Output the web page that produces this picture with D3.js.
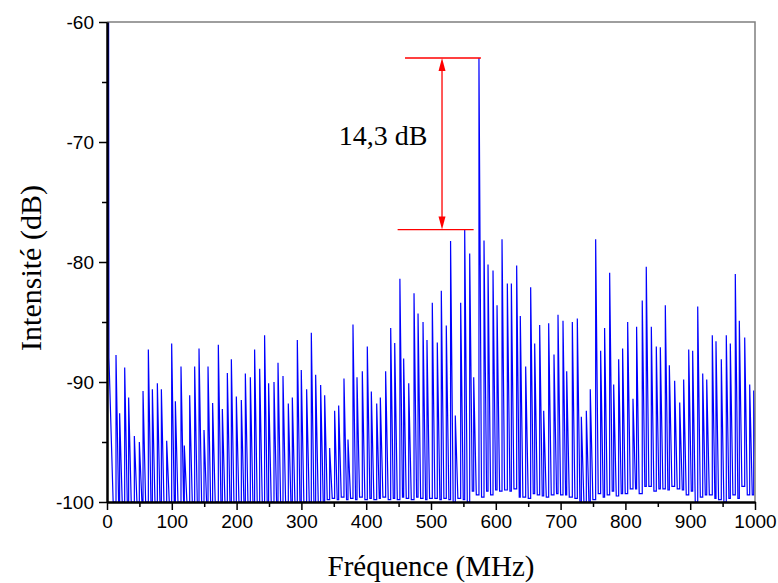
<!DOCTYPE html>
<html><head><meta charset="utf-8">
<script src="https://cdn.jsdelivr.net/npm/d3@7"></script>
<style>body{margin:0;background:#fff}svg{display:block}</style>
</head><body><svg id="c" width="778" height="583"></svg>
<script>
// ---- data ----
const xTicks = [0,100,200,300,400,500,600,700,800,900,1000];
const xMinorTicks = [50,150,250,350,450,550,650,750,850,950];
const yTicks = [-100,-90,-80,-70,-60];
const yMinorTicks = [-95,-85,-75,-65];

// DC spike at 0 MHz
const dcMHz = [0, 2.5, 3, 9.5];
const dcDb  = [-100, -60, -88, -100];

const peakMHz = [
 13.9,19.5,27.3,33.4,42.2,49.9,55.6,63.8,70.0,77.7,83.9,92.1,99.8,105.5,114.2,119.3,127.6,135.3,142.0,149.7,155.9,163.0,
 171.8,178.0,185.7,191.9,199.6,207.3,213.5,221.2,227.8,235.6,243.2,249.4,257.7,263.9,271.6,279.8,286.0,293.7,299.8,308.1,315.3,322.0,329.7,
 335.9,343.6,351.3,357.5,365.7,371.9,379.6,385.8,394.0,401.7,407.9,416.2,421.8,430.0,437.8,444.0,452.0,457.8,465.6,473.8,480.0,487.7,493.8,
 502.0,509.7,515.9,523.6,530.2,537.5,545.8,552.0,559.7,565.9,574.0,581.8,588.0,595.7,601.9,609.6,617.8,624.0,632.2,637.8,646.1,653.8,660.0,667.7,
 673.9,681.6,689.8,696.0,703.7,709.4,718.1,725.8,732.0,739.7,745.8,754.1,761.8,767.9,775.7,781.9,789.6,795.7,803.5,811.7,817.3,826.0,832.2,
 840.0,847.7,853.9,861.6,867.8,876.0,883.8,889.9,897.7,903.8,911.6,919.3,925.5,934.1,939.8,948.0,955.7,961.9,969.6,975.8,984.1,991.8,998.0
];
const peakDb = [
 -87.75,-92.6,-88.8,-91.3,-94.5,-95.0,-90.75,-87.3,-90.6,-90.1,-90.6,-94.9,-86.8,-91.6,-88.7,-95.3,-91.1,-88.7,-87.2,-94.0,-88.7,-91.75,
 -86.9,-92.25,-89.25,-88.1,-91.2,-91.5,-89.3,-89.6,-87.3,-88.9,-86.1,-90.1,-90.0,-88.4,-89.5,-91.8,-91.3,-86.5,-89.0,-90.6,-85.9,-89.4,-90.25,
 -91.1,-95.5,-92.4,-91.95,-89.7,-94.8,-85.2,-89.6,-89.1,-87.05,-90.8,-91.8,-91.3,-89.1,-85.5,-86.75,-81.4,-88.05,-90.1,-82.6,-84.3,-85.0,-86.5,
 -83.4,-86.7,-82.4,-85.3,-78.25,-92.8,-83.4,-77.3,-79.3,-89.6,-63.0,-78.2,-80.2,-80.7,-83.6,-78.1,-81.8,-81.8,-80.3,-84.5,-88.7,-82.1,-86.8,-85.25,
 -92.4,-85.1,-87.7,-84.4,-84.9,-89.1,-85.0,-84.7,-92.9,-92.4,-90.6,-78.1,-87.4,-85.5,-80.9,-90.2,-88.1,-87.2,-85.0,-91.4,-85.4,-83.2,-80.4,
 -85.4,-87.05,-87.1,-83.6,-88.6,-89.9,-91.7,-89.8,-87.3,-87.4,-83.7,-89.3,-89.8,-86.1,-86.6,-88.1,-86.1,-86.8,-81.0,-84.9,-86.3,-90.2,-90.7
];
// trough level reached after each peak
const valleyDb = [
 -100,-100,-100,-100,-100,-100,-100,-100,-100,-100,-100,-100,-100,-100,-100,-100,-100,-100,-100,-100,-100,-100,
 -100,-100,-100,-100,-100,-100,-100,-100,-100,-100,-100,-100,-100,-100,-100,-100,-100,-100,-100,-100,-100,-100,-100,
 -99.8,-99.7,-99.8,-99.6,-99.8,-99.7,-99.8,-99.6,-99.8,-99.7,-99.8,-99.7,-99.6,-99.8,-99.7,-99.8,-99.6,-99.7,-99.8,-99.6,-99.7,-99.8,-99.7,
 -99.7,-99.8,-99.7,-99.8,-100,-99.7,-99.8,-100,-99.1,-99.4,-99.6,-99.1,-99.4,-99.0,-99.1,-99.0,-99.1,-98.9,-99.6,-99.6,-99.7,-99.3,-99.4,-99.5,
 -99.6,-99.4,-99.3,-99.4,-99.4,-99.6,-99.7,-100,-100,-100,-99.8,-99.3,-99.6,-99.4,-99.1,-99.5,-99.3,-99.3,-98.9,-98.9,-99.3,-98.7,-98.7,
 -99.1,-98.9,-98.9,-99.0,-98.7,-98.9,-99.0,-99.4,-99.1,-100,-99.6,-99.4,-99.4,-99.7,-99.8,-100,-99.7,-99.4,-99.7,-98.7,-99.4,-99.4,-98.7
];

// annotation
const annoTopDb = -63.0;
const annoBottomDb = -77.3;
const annoLabel = "14,3 dB";

// ---- drawing ----
const svg = d3.select("#c");
const X0=107, X1=755, Y0=22, Y1=502;
const x = d3.scaleLinear().domain([0,1000]).range([X0,X1]);
const y = d3.scaleLinear().domain([-100,-60]).range([Y1,Y0]);
const FALL = 4; // width (MHz) of the trailing edge of each spike

svg.append("defs").append("clipPath").attr("id","plot")
  .append("rect").attr("x",X0).attr("y",Y0-1).attr("width",X1-X0).attr("height",Y1-Y0+1);

const pts = dcMHz.map((f,i)=>[f, dcDb[i]]);
peakMHz.forEach((f,i)=>{
  const prev = i===0 ? dcDb[dcDb.length-1] : valleyDb[i-1];
  pts.push([f, prev]);
  pts.push([f, peakDb[i]]);
  pts.push([f+FALL, valleyDb[i]]);
});
const line = d3.line().x(d=>x(d[0])).y(d=>y(d[1]));
svg.append("path").datum(pts).attr("d",line)
  .attr("clip-path","url(#plot)")
  .attr("fill","none").attr("stroke","#0000ff").attr("stroke-width",1.2)
  .attr("stroke-linejoin","miter");

// frame (top/right)
svg.append("path").attr("d",`M${X0},${Y0}H${X1}V${Y1}`)
  .attr("fill","none").attr("stroke","#7f7f7f").attr("stroke-width",1.5);

// axes
const fmt = d => String(d);
const tickFont = "'Liberation Sans', Arial, sans-serif";
const gx = svg.append("g").attr("transform",`translate(0,${Y1})`)
  .call(d3.axisBottom(x).tickValues(xTicks).tickSize(8).tickSizeOuter(0).tickPadding(5).tickFormat(fmt));
const gxm = svg.append("g").attr("transform",`translate(0,${Y1})`)
  .call(d3.axisBottom(x).tickValues(xMinorTicks).tickSize(5).tickSizeOuter(0).tickFormat(""));
const gy = svg.append("g").attr("transform",`translate(${X0},0)`)
  .call(d3.axisLeft(y).tickValues(yTicks).tickSize(8).tickSizeOuter(0).tickPadding(5).tickFormat(fmt));
const gym = svg.append("g").attr("transform",`translate(${X0},0)`)
  .call(d3.axisLeft(y).tickValues(yMinorTicks).tickSize(5).tickSizeOuter(0).tickFormat(""));
[gx,gxm,gy,gym].forEach(g=>{
  g.select(".domain").attr("stroke","#000").attr("stroke-width",2);
  g.selectAll(".tick line").attr("stroke","#000").attr("stroke-width",1.5);
  g.selectAll(".tick text").attr("fill","#000").style("font-family",tickFont).style("font-size","19px");
});

// axis titles
const serif = "'Liberation Serif', 'Times New Roman', serif";
svg.append("text").attr("x",(X0+X1)/2).attr("y",576).attr("text-anchor","middle")
  .style("font-family",serif).style("font-size","29px").text("Fréquence (MHz)");
svg.append("text").attr("transform",`translate(41,268) rotate(-90)`).attr("text-anchor","middle")
  .style("font-family",serif).style("font-size","30px").text("Intensité (dB)");

// annotation
const red = "#ff0000";
const aTop = y(annoTopDb), aBot = y(annoBottomDb);
svg.append("line").attr("x1",x(459.9)).attr("x2",x(577)).attr("y1",aTop).attr("y2",aTop)
  .attr("stroke",red).attr("stroke-width",1.3);
svg.append("line").attr("x1",x(448.5)).attr("x2",x(565.8)).attr("y1",aBot).attr("y2",aBot)
  .attr("stroke",red).attr("stroke-width",1.3);
const ax = x(517);
svg.append("line").attr("x1",ax).attr("x2",ax).attr("y1",aTop+10).attr("y2",aBot-10)
  .attr("stroke",red).attr("stroke-width",1.3);
svg.append("path").attr("d",`M${ax},${aTop}L${ax-3.5},${aTop+13}L${ax+3.5},${aTop+13}Z`).attr("fill",red);
svg.append("path").attr("d",`M${ax},${aBot}L${ax-3.5},${aBot-13}L${ax+3.5},${aBot-13}Z`).attr("fill",red);
svg.append("text").attr("x",x(426)).attr("y",y(-70.25)).attr("text-anchor","middle")
  .style("font-family",serif).style("font-size","28px").text(annoLabel);
</script></body></html>
